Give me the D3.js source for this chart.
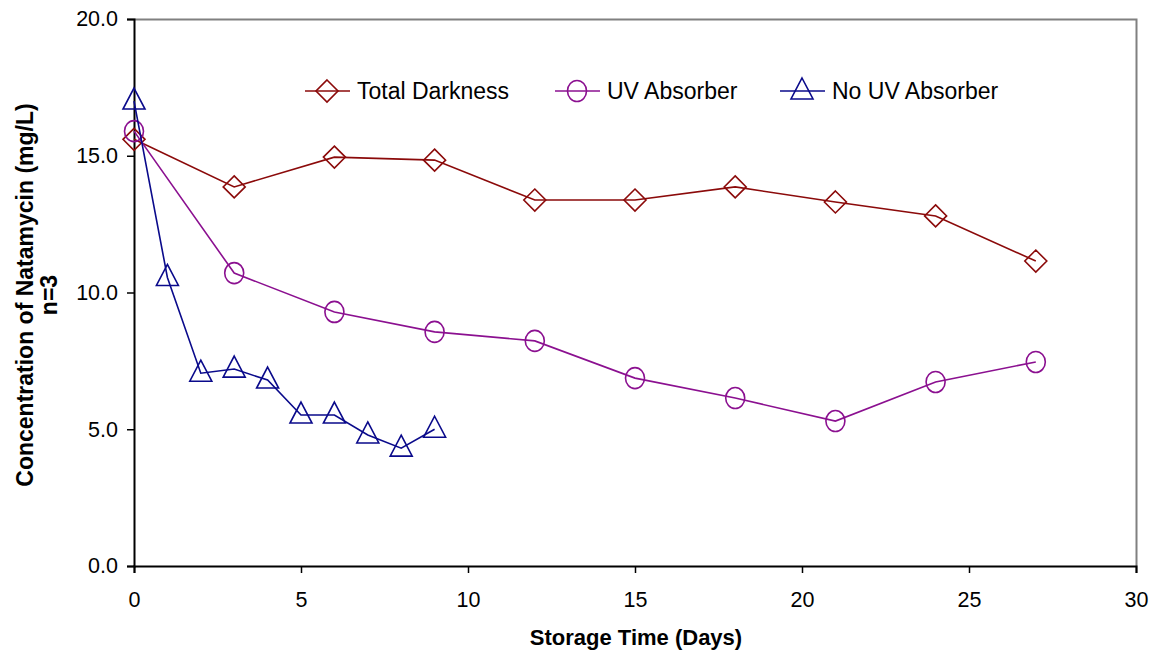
<!DOCTYPE html>
<html><head><meta charset="utf-8">
<script src="https://cdn.jsdelivr.net/npm/d3@7"></script>
<style>body{margin:0;background:#fff}svg{display:block;font-family:"Liberation Sans",Arial,sans-serif}</style>
</head><body><svg id="c" width="1153" height="651"></svg>
<script>
const days = [0,3,6,9,12,15,18,21,24,27];
const totalDarkness = [15.6,13.86,14.95,14.84,13.38,13.38,13.86,13.31,12.8,11.15];
const uvAbsorber = [15.9,10.71,9.29,8.56,8.23,6.87,6.14,5.3,6.73,7.46];
const noUvDays = [0,1,2,3,4,5,6,7,8,9];
const noUvAbsorber = [17.0,10.55,7.05,7.2,6.8,5.52,5.52,4.79,4.31,5.0];
const xTicks = [0,5,10,15,20,25,30];
const yTicks = [0,5,10,15,20];
const seriesNames = ["Total Darkness","UV Absorber","No UV Absorber"];

const svg = d3.select("#c");
const L=134,R=1136,T=19,B=566;
const x = d3.scaleLinear().domain([0,30]).range([L,R]);
const y = d3.scaleLinear().domain([0,20]).range([B,T]);

svg.append("path").attr("d",`M${L},${T+0.5}H${R+0.5}V${B}`).attr("fill","none").attr("stroke","#808080").attr("stroke-width",2);

const xa = svg.append("g").attr("transform",`translate(0,${B})`)
  .call(d3.axisBottom(x).tickValues(xTicks).tickSize(7).tickPadding(19).tickFormat(d3.format("d")));
const ya = svg.append("g").attr("transform",`translate(${L},0)`)
  .call(d3.axisLeft(y).tickValues(yTicks).tickSize(7).tickPadding(9).tickFormat(d3.format(".1f")));
[xa,ya].forEach(g=>{
  g.select(".domain").attr("stroke","#000").attr("stroke-width",2);
  g.selectAll(".tick line").attr("stroke","#000").attr("stroke-width",1.5);
  g.selectAll("text").attr("font-size",21.5).attr("fill","#000").attr("font-family","'Liberation Sans',Arial,sans-serif");
});

const series = [
  {name:seriesNames[0], xs:days, ys:totalDarkness, color:"#8B0A0A", shape:"diamond"},
  {name:seriesNames[1], xs:days, ys:uvAbsorber, color:"#8B1090", shape:"circle"},
  {name:seriesNames[2], xs:noUvDays, ys:noUvAbsorber, color:"#0A0A8B", shape:"triangle"}
];
function marker(g, shape, cx, cy, color){
  if(shape==="diamond"){
    g.append("path").attr("d",`M${cx},${cy-11}L${cx+11},${cy}L${cx},${cy+11}L${cx-11},${cy}Z`)
     .attr("fill","none").attr("stroke",color).attr("stroke-width",1.6);
  } else if(shape==="circle"){
    g.append("ellipse").attr("cx",cx).attr("cy",cy).attr("rx",9.5).attr("ry",10.5)
     .attr("fill","none").attr("stroke",color).attr("stroke-width",1.6);
  } else {
    g.append("path").attr("d",`M${cx},${cy-13}L${cx+11},${cy+8}L${cx-11},${cy+8}Z`)
     .attr("fill","none").attr("stroke",color).attr("stroke-width",1.6);
  }
}
const line = d3.line();
series.forEach(s=>{
  const pts = s.xs.map((d,i)=>[x(d),y(s.ys[i])]);
  svg.append("path").attr("d",line(pts)).attr("fill","none").attr("stroke",s.color).attr("stroke-width",1.6);
  const g = svg.append("g");
  pts.forEach(p=>marker(g,s.shape,p[0],p[1],s.color));
});

const legX=[305,555,780];
series.forEach((s,i)=>{
  const g=svg.append("g");
  g.append("line").attr("x1",legX[i]).attr("x2",legX[i]+45).attr("y1",91).attr("y2",91).attr("stroke",s.color).attr("stroke-width",1.6);
  marker(g,s.shape,legX[i]+22,91,s.color);
  g.append("text").attr("x",legX[i]+52).attr("y",99).attr("font-size",23).text(s.name);
});

svg.append("text").attr("x",(L+R)/2+1).attr("y",645).attr("text-anchor","middle").attr("font-weight","bold").attr("font-size",22).text("Storage Time (Days)");
const yt = svg.append("text").attr("transform",`translate(0,295) rotate(-90)`).attr("text-anchor","middle").attr("font-weight","bold").attr("font-size",23);
yt.append("tspan").attr("x",0).attr("y",33).text("Concentration of Natamycin (mg/L)");
yt.append("tspan").attr("x",0).attr("y",57).text("n=3");
</script></body></html>
